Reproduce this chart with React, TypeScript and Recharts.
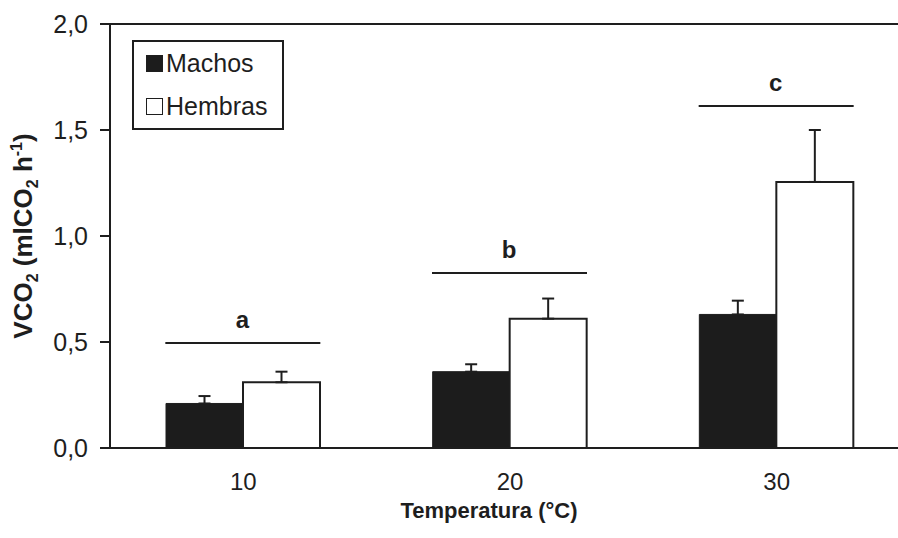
import {
  ComposedChart,
  Bar,
  Line,
  XAxis,
  YAxis,
  ErrorBar,
  Legend,
  ReferenceLine,
} from 'recharts';

const CATEGORIES = ['10', '20', '30'];
const MACHOS = [0.21, 0.36, 0.63];
const MACHOS_ERR = [0.035, 0.035, 0.065];
const HEMBRAS = [0.31, 0.61, 1.255];
const HEMBRAS_ERR = [0.05, 0.095, 0.245];
const SIG_LEVEL = [0.495, 0.825, 1.613];
const SIG_LETTERS = ['a', 'b', 'c'];
const Y_TICKS = [0, 0.5, 1, 1.5, 2];
const SERIES = [
  { name: 'Machos', fill: '#1c1c1c' },
  { name: 'Hembras', fill: '#ffffff' },
];

const FONT = '"Liberation Sans", Arial, sans-serif';
const INK = '#1e1e1e';

const data = CATEGORIES.map((temp, i) => ({
  temp,
  machos: MACHOS[i],
  machosErr: [0, MACHOS_ERR[i]],
  hembras: HEMBRAS[i],
  hembrasErr: [0, HEMBRAS_ERR[i]],
  sig: SIG_LEVEL[i],
  letter: SIG_LETTERS[i],
}));

function SigMark(props: any) {
  const { cx, cy, payload, index } = props;
  if (cx == null || cy == null) return <g key={index} />;
  return (
    <g key={`sig-${index}`}>
      <line x1={cx - 78} x2={cx + 77} y1={cy} y2={cy} stroke={INK} strokeWidth={2} />
      <text x={cx - 1} y={cy - 15} textAnchor="middle" fontSize={24} fontWeight="bold" fill={INK} fontFamily={FONT}>
        {payload.letter}
      </text>
    </g>
  );
}

function LegendBox() {
  return (
    <div
      style={{
        border: `2px solid ${INK}`,
        width: 152,
        height: 90,
        boxSizing: 'border-box',
        padding: '0 0 0 12px',
        fontFamily: FONT,
        fontSize: 25,
        color: INK,
        background: '#fff',
      }}
    >
      {SERIES.map((s) => (
        <div key={s.name} style={{ display: 'flex', alignItems: 'center', height: 43 }}>
          <span
            style={{
              display: 'inline-block',
              width: 17,
              height: 17,
              background: s.fill,
              border: `1.5px solid ${INK}`,
              boxSizing: 'border-box',
              marginRight: 3,
            }}
          />
          <span>{s.name}</span>
        </div>
      ))}
    </div>
  );
}

function YLabel(props: any) {
  const { viewBox } = props;
  const x = viewBox.x + 32;
  const y = viewBox.y + viewBox.height / 2;
  return (
    <text
      x={x}
      y={y}
      transform={`rotate(-90, ${x}, ${y})`}
      textAnchor="middle"
      fontSize={26}
      fontWeight="bold"
      fill={INK}
      fontFamily={FONT}
    >
      <tspan>VCO</tspan>
      <tspan fontSize={16} dy={6}>2</tspan>
      <tspan dy={-6}> (mlCO</tspan>
      <tspan fontSize={16} dy={6}>2</tspan>
      <tspan dy={-6}> h</tspan>
      <tspan fontSize={16} dy={-10}>-1</tspan>
      <tspan dy={10}>)</tspan>
    </text>
  );
}

function XLabel(props: any) {
  const { viewBox } = props;
  return (
    <text
      x={viewBox.x + viewBox.width / 2 - 21}
      y={viewBox.y + 70}
      textAnchor="middle"
      fontSize={22}
      fontWeight="bold"
      fill={INK}
      fontFamily={FONT}
    >
      Temperatura (°C)
    </text>
  );
}

export default function App() {
  return (
    <div style={{ position: 'absolute', left: 0, top: 0, width: 898, height: 538, overflow: 'hidden', background: '#fff' }}>
      <ComposedChart
        width={920}
        height={538}
        data={data}
        margin={{ top: 24, right: 10, bottom: 0, left: 0 }}
        barCategoryGap="21%"
        barGap={0}
      >
        <XAxis
          dataKey="temp"
          height={90}
          tickLine={false}
          tickSize={0}
          tickMargin={25}
          axisLine={{ stroke: INK, strokeWidth: 2 }}
          tick={{ fontSize: 24, fill: INK, fontFamily: FONT }}
          label={<XLabel />}
        />
        <YAxis
          width={110}
          domain={[0, 2]}
          ticks={Y_TICKS}
          tickSize={10}
          tickMargin={12}
          axisLine={{ stroke: INK, strokeWidth: 2 }}
          tickLine={{ stroke: INK, strokeWidth: 2 }}
          tick={{ fontSize: 25, fill: INK, fontFamily: FONT }}
          tickFormatter={(v: number) => v.toFixed(1).replace('.', ',')}
          label={<YLabel />}
        />
        <ReferenceLine y={2} stroke={INK} strokeWidth={2} />
        <Legend
          layout="horizontal"
          verticalAlign="middle"
          align="center"
          content={<LegendBox />}
          wrapperStyle={{ position: 'absolute', left: 132, top: 40, width: 'auto' }}
        />
        <Bar dataKey="machos" name="Machos" fill={SERIES[0].fill} stroke={INK} strokeWidth={1} isAnimationActive={false}>
          <ErrorBar dataKey="machosErr" width={6} stroke={INK} strokeWidth={2} isAnimationActive={false} />
        </Bar>
        <Bar dataKey="hembras" name="Hembras" fill={SERIES[1].fill} stroke={INK} strokeWidth={2} isAnimationActive={false}>
          <ErrorBar dataKey="hembrasErr" width={6} stroke={INK} strokeWidth={2} isAnimationActive={false} />
        </Bar>
        <Line
          dataKey="sig"
          stroke="none"
          dot={<SigMark />}
          activeDot={false}
          legendType="none"
          isAnimationActive={false}
        />
      </ComposedChart>
    </div>
  );
}
